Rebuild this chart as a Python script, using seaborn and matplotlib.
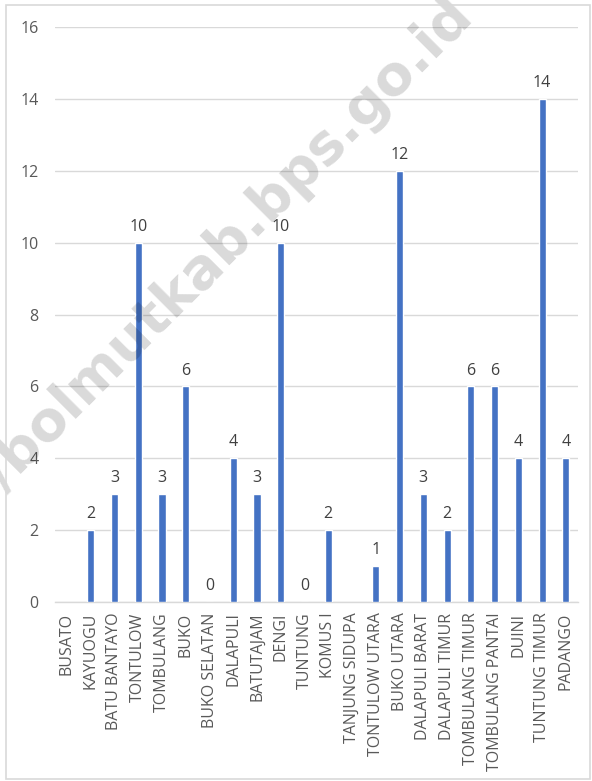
import numpy as np
import pandas as pd
import matplotlib
matplotlib.use("Agg")
import matplotlib.pyplot as plt
import seaborn as sns

categories = ["BUSATO", "KAYUOGU", "BATU BANTAYO", "TONTULOW", "TOMBULANG", "BUKO",
              "BUKO SELATAN", "DALAPULI", "BATUTAJAM", "DENGI", "TUNTUNG", "KOMUS I",
              "TANJUNG SIDUPA", "TONTULOW UTARA", "BUKO UTARA", "DALAPULI BARAT",
              "DALAPULI TIMUR", "TOMBULANG TIMUR", "TOMBULANG PANTAI", "DUINI",
              "TUNTUNG TIMUR", "PADANGO"]
values = [np.nan, 2, 3, 10, 3, 6, 0, 4, 3, 10, 0, 2, np.nan, 1, 12, 3, 2, 6, 6, 4, 14, 4]
yticks = [0, 2, 4, 6, 8, 10, 12, 14, 16]

sns.set_theme(style="white")
plt.rcParams['font.family'] = ['Open Sans', 'DejaVu Sans']

df = pd.DataFrame({"cat": categories, "val": values})

fig = plt.figure(figsize=(5.92, 7.81), dpi=100)
ax = fig.add_axes([0.093, 0.229, 0.883, 0.7365])

sns.barplot(data=df, x="cat", y="val", color="#4472C4", width=0.3, ax=ax,
            saturation=1, zorder=3, order=categories)

ax.set_ylim(0, 16)
ax.set_yticks(yticks)
ax.set_xlim(-0.5, len(categories) - 0.5)
ax.yaxis.grid(True, color="#d9d9d9", linewidth=1, zorder=1)
ax.set_axisbelow(True)
for s in ["top", "right", "left"]:
    ax.spines[s].set_visible(False)
ax.spines["bottom"].set_color("#d9d9d9")
ax.spines["bottom"].set_linewidth(1)
ax.set_xlabel("")
ax.set_ylabel("")
ax.tick_params(axis="y", length=0, labelsize=11.5, labelcolor="#595959", pad=12)
ax.tick_params(axis="x", length=0, labelsize=11.5, labelcolor="#595959", pad=7.5)
plt.setp(ax.get_xticklabels(), rotation=90)

for i, v in enumerate(values):
    if not np.isnan(v):
        ax.text(i, v + 0.22, f"{int(v)}", ha="center", va="bottom",
                fontsize=11.5, color="#404040", zorder=4)

# semi-transparent watermark over the chart
ax.text(0.375, 0.677, "//bolmutkab.bps.go.id", rotation=45, fontsize=40,
        fontweight="bold", color="black", alpha=0.15, ha="center", va="center",
        transform=fig.transFigure, zorder=10, clip_on=False,
        family=['DejaVu Sans'])

# outer border
border = plt.Rectangle((0.01, 0.003), 0.987, 0.991, transform=fig.transFigure,
                       fill=False, edgecolor="#d9d9d9", linewidth=1.2)
fig.patches.append(border)

fig.savefig("out.png", dpi=100)
